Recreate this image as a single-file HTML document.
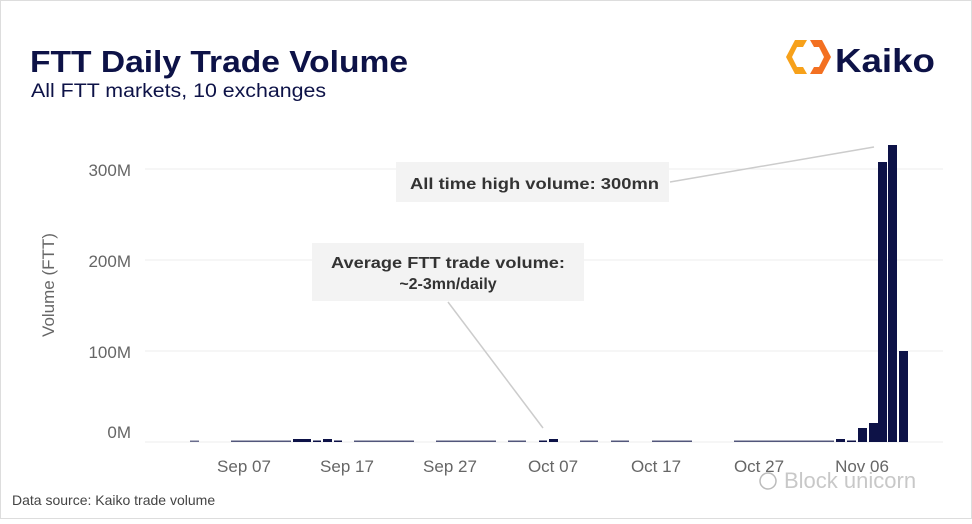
<!DOCTYPE html>
<html><head><meta charset="utf-8"><style>
body{margin:0;width:972px;height:519px;background:#fff;overflow:hidden;font-family:"Liberation Sans",sans-serif}
</style></head><body>
<svg width="972" height="519" xmlns="http://www.w3.org/2000/svg" font-family="Liberation Sans, sans-serif">
<rect x="0.5" y="0.5" width="971" height="518" fill="#fff" stroke="#ddd"/>
<text x="30" y="72" font-size="31" font-weight="bold" fill="#0d1247" textLength="378" lengthAdjust="spacingAndGlyphs">FTT Daily Trade Volume</text>
<text x="31" y="97" font-size="19" fill="#0d1247" textLength="295" lengthAdjust="spacingAndGlyphs">All FTT markets, 10 exchanges</text>
<g transform="translate(783,40)">
<path d="M12 0 L24 0 L20 7 L14 7 L9 17 L14 27 L20 27 L24 34 L12 34 L3 17 Z" fill="#f7a11a"/>
<path d="M27 0 L39 0 L48 17 L39 34 L27 34 L31 27 L36 27 L41 17 L36 7 L31 7 Z" fill="#f37021"/>
</g>
<text x="835" y="72" font-size="33" font-weight="bold" fill="#0d1247" textLength="100" lengthAdjust="spacingAndGlyphs">Kaiko</text>
<g stroke="#ececec" stroke-width="1">
<line x1="145" y1="169" x2="943" y2="169"/>
<line x1="145" y1="260" x2="943" y2="260"/>
<line x1="145" y1="351" x2="943" y2="351"/>
<line x1="145" y1="442" x2="943" y2="442"/>
</g>
<g font-size="17" fill="#666" text-anchor="end">
<text x="131" y="176">300M</text>
<text x="131" y="267">200M</text>
<text x="131" y="358">100M</text>
<text x="131" y="438">0M</text>
</g>
<text transform="translate(54,285) rotate(-90)" font-size="17" fill="#666" text-anchor="middle">Volume (FTT)</text>
<g font-size="17" fill="#666" text-anchor="middle">
<text x="244" y="472">Sep 07</text>
<text x="347" y="472">Sep 17</text>
<text x="450" y="472">Sep 27</text>
<text x="553" y="472">Oct 07</text>
<text x="656" y="472">Oct 17</text>
<text x="759" y="472">Oct 27</text>
<text x="862" y="472">Nov 06</text>
</g>
<g fill="#0d1247">
<rect x="190" y="440.5" width="9" height="1.5" opacity=".6"/>
<rect x="231" y="440.5" width="60" height="1.5" opacity=".7"/>
<rect x="293" y="439" width="18" height="3"/>
<rect x="313" y="440.5" width="8" height="1.5"/>
<rect x="323" y="439" width="9" height="3"/>
<rect x="334" y="440.5" width="8" height="1.5"/>
<rect x="354" y="440.5" width="60" height="1.5" opacity=".7"/>
<rect x="436" y="440.5" width="60" height="1.5" opacity=".7"/>
<rect x="508" y="440.5" width="18" height="1.5" opacity=".7"/>
<rect x="539" y="440.5" width="8" height="1.5"/>
<rect x="549" y="439" width="9" height="3"/>
<rect x="580" y="440.5" width="18" height="1.5" opacity=".7"/>
<rect x="611" y="440.5" width="18" height="1.5" opacity=".7"/>
<rect x="652" y="440.5" width="40" height="1.5" opacity=".7"/>
<rect x="734" y="440.5" width="100" height="1.5" opacity=".7"/>
<rect x="836" y="439" width="9" height="3"/>
<rect x="847" y="440.5" width="9" height="1.5"/>
<rect x="858" y="428" width="9" height="14"/>
<rect x="869" y="423" width="9" height="19"/>
<rect x="878" y="162" width="9" height="280"/>
<rect x="888" y="145" width="9" height="297"/>
<rect x="899" y="351" width="9" height="91"/>
</g>
<line x1="670" y1="182" x2="874" y2="147" stroke="#ccc" stroke-width="1.5"/>
<rect x="396" y="162" width="273" height="40" fill="#f3f3f3"/>
<text x="410" y="189" font-size="16" font-weight="bold" fill="#333" textLength="249" lengthAdjust="spacingAndGlyphs">All time high volume: 300mn</text>
<line x1="448" y1="302" x2="543" y2="428" stroke="#ccc" stroke-width="1.5"/>
<rect x="312" y="243" width="272" height="58" fill="#f3f3f3"/>
<text x="331" y="268" font-size="16" font-weight="bold" fill="#333" textLength="234" lengthAdjust="spacingAndGlyphs">Average FTT trade volume:</text>
<text x="448" y="289" font-size="16" font-weight="bold" fill="#333" text-anchor="middle">~2-3mn/daily</text>
<text x="12" y="505" font-size="14" fill="#444">Data source: Kaiko trade volume</text>
<text x="784" y="488" font-size="22" fill="#bbb" opacity=".8">Block unicorn</text>
<circle cx="768" cy="481" r="8" fill="none" stroke="#bbb" stroke-width="1.5"/>
</svg>
</body></html>
